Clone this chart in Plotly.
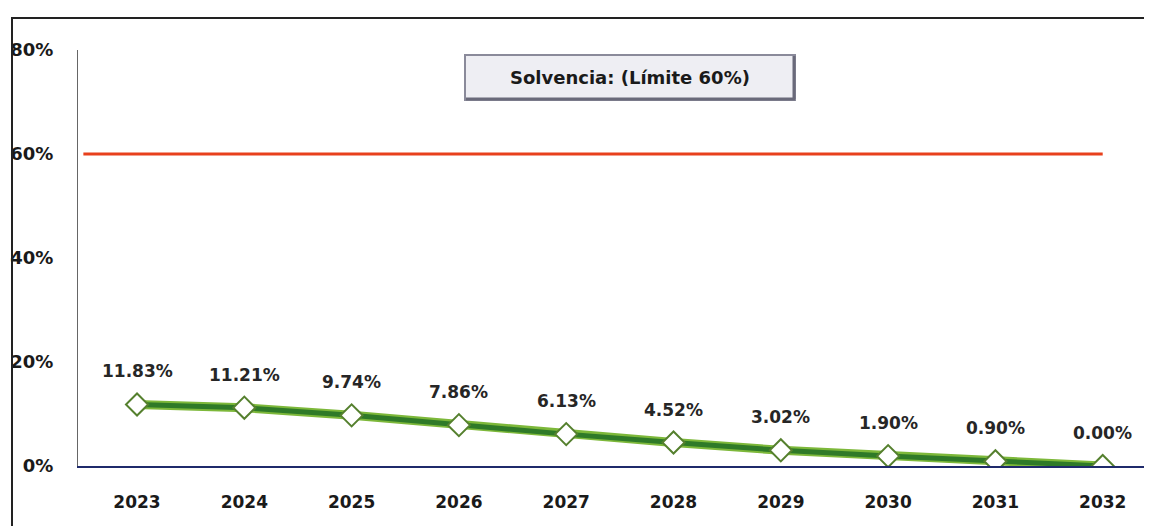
import plotly.graph_objects as go

years = ["2023", "2024", "2025", "2026", "2027", "2028", "2029", "2030", "2031", "2032"]
solvencia = [11.83, 11.21, 9.74, 7.86, 6.13, 4.52, 3.02, 1.90, 0.90, 0.00]
limite = 60
y_ticks = [0, 20, 40, 60, 80]
y_tick_labels = ["0%", "20%", "40%", "60%", "80%"]
title_text = "Solvencia: (Límite 60%)"

FONT = "DejaVu Sans"

# plot area on screen (page has an 8px body margin)
PX_L, PX_W, PX_B, PX_H = 78, 1073, 466, 416


def px(x):
    return (x - PX_L) / PX_W


def py(y):
    return (PX_B - y) / PX_H


fig = go.Figure()

# outer document frame (only left and top edges fall inside the page)
fig.add_shape(type="rect", xref="paper", yref="paper", x0=px(12), x1=px(1400),
              y0=py(700), y1=py(18), line=dict(color="#222", width=2),
              fillcolor="rgba(0,0,0,0)", layer="above")

# limit line (red)
fig.add_shape(type="line", xref="x", yref="y", x0=-0.5, x1=len(years) - 1,
              y0=limite, y1=limite, line=dict(color="#E8401C", width=3), layer="above")

# green line: light outer + dark inner
fig.add_trace(go.Scatter(x=years, y=solvencia, mode="lines",
                         line=dict(color="#7DB83A", width=9), hoverinfo="skip", showlegend=False))
fig.add_trace(go.Scatter(x=years, y=solvencia, mode="lines+markers",
                         line=dict(color="#2F7A28", width=5),
                         marker=dict(symbol="diamond", size=17, color="white",
                                     line=dict(color="#55802E", width=2)),
                         showlegend=False))

for i, v in enumerate(solvencia):
    fig.add_annotation(x=i, y=v, xref="x", yref="y", text=f"{v:.2f}%", showarrow=False,
                       yshift=33, yanchor="middle",
                       font=dict(family=FONT, size=17, color="#262626", weight="bold"))

# title box with bevel
fig.add_shape(type="rect", xref="paper", yref="paper", x0=px(465), x1=px(795),
              y0=py(100), y1=py(55),
              line=dict(color="#8A8A9A", width=2), fillcolor="#EEEEF3", layer="above")
fig.add_shape(type="line", xref="paper", yref="paper", x0=px(466), x1=px(795),
              y0=py(99), y1=py(99), line=dict(color="#6A6A7A", width=3), layer="above")
fig.add_shape(type="line", xref="paper", yref="paper", x0=px(794), x1=px(794),
              y0=py(99), y1=py(56), line=dict(color="#6A6A7A", width=3), layer="above")
fig.add_annotation(xref="paper", yref="paper", x=px(630), y=py(77),
                   xanchor="center", yanchor="middle",
                   text=title_text, showarrow=False,
                   font=dict(family=FONT, size=18, color="#1A1A1A", weight="bold"))

fig.update_xaxes(type="category", range=[-0.55, 9.45], showgrid=False, zeroline=False,
                 showline=True, linecolor="#1F2A6B", linewidth=2, ticks="",
                 ticklabelstandoff=20, automargin=False,
                 tickfont=dict(family=FONT, size=17, color="#1A1A1A", weight="bold"))
fig.update_yaxes(range=[0, 80], tickvals=y_ticks, ticktext=y_tick_labels, showgrid=False,
                 zeroline=False, showline=True, linecolor="#666", linewidth=1, ticks="",
                 ticklabelstandoff=20, automargin=False,
                 tickfont=dict(family=FONT, size=18, color="#1A1A1A", weight="bold"))

fig.update_layout(width=1152, height=526,
                  margin=dict(l=70, r=9, t=42, b=68, autoexpand=False),
                  paper_bgcolor="white", plot_bgcolor="white", showlegend=False)

fig.write_html("out.html")
